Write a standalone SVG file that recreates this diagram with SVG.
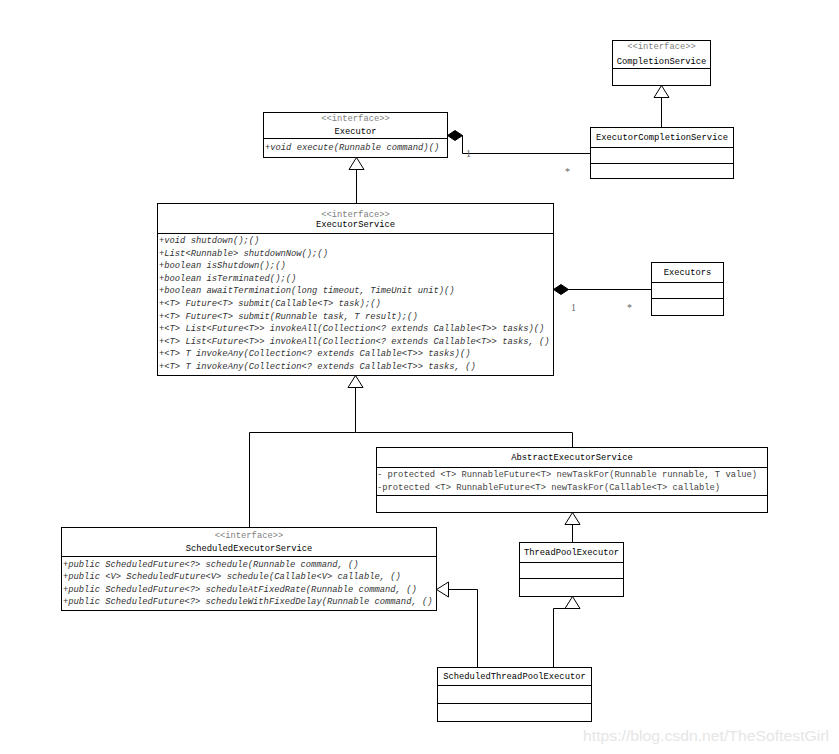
<svg xmlns="http://www.w3.org/2000/svg" width="839" height="754" viewBox="0 0 839 754">
<style>
.box{fill:#fff;stroke:#000;stroke-width:1}
.ln{fill:none;stroke:#000;stroke-width:1}
text{font-family:"Liberation Mono","DejaVu Sans Mono",monospace;font-size:8.8px;fill:#000}
.st{fill:#808080;text-anchor:middle}
.ti{text-anchor:middle}
.m{font-style:italic;fill:#333}
.p{fill:#444}
.lb{fill:#666;font-family:"Liberation Serif",serif;font-size:10px}
.wm{font-family:"Liberation Sans",Arial,sans-serif;font-size:14px;fill:#e6e6e6}
</style>
<defs>
<marker id="tri" markerUnits="userSpaceOnUse" markerWidth="14" markerHeight="17" refX="12" refY="7.5" orient="auto" viewBox="-1 -1 14 17">
<path d="M0,0 L12,7.5 L0,15 Z" fill="#fff" stroke="#000" stroke-width="1"/>
</marker>
<marker id="dia" markerUnits="userSpaceOnUse" markerWidth="18" markerHeight="12" refX="0" refY="5" orient="auto" viewBox="-1 -1 18 12">
<path d="M0,5 L7.5,0 L15,5 L7.5,10 Z" fill="#000" stroke="#000" stroke-width="1"/>
</marker>
</defs>

<g id="connectors">
<path class="ln" d="M661.5,127.5 L661.5,85.5" marker-end="url(#tri)"/>
<path class="ln" d="M356.5,203.5 L356.5,157.5" marker-end="url(#tri)"/>
<path class="ln" d="M249.5,527.5 L249.5,432.5 L355.5,432.5 L355.5,375.5" marker-end="url(#tri)"/>
<path class="ln" d="M572.5,447.5 L572.5,432.5 L355.5,432.5"/>
<path class="ln" d="M572.5,542.5 L572.5,512.5" marker-end="url(#tri)"/>
<path class="ln" d="M553.5,667.5 L553.5,608.5 L572.5,608.5 L572.5,596.5" marker-end="url(#tri)"/>
<path class="ln" d="M477.5,667.5 L477.5,589.5 L436.5,589.5" marker-end="url(#tri)"/>
<path class="ln" d="M447.5,135.5 L462.5,135.5 L462.5,153.5 L590.5,153.5" marker-start="url(#dia)"/>
<path class="ln" d="M553.5,289.5 L651.5,289.5" marker-start="url(#dia)"/>
<text class="lb" x="466" y="157">1</text>
<text class="lb" x="565" y="175">*</text>
<text class="lb" x="571" y="311">1</text>
<text class="lb" x="627" y="311">*</text>
</g>

<g id="CompletionService">
<rect class="box" x="612.5" y="40.5" width="98" height="45"/>
<line class="ln" x1="612.5" y1="68.5" x2="710.5" y2="68.5"/>
<text class="st" x="661.5" y="49">&lt;&lt;interface&gt;&gt;</text>
<text class="ti" x="661.5" y="64">CompletionService</text>
</g>

<g id="ExecutorCompletionService">
<rect class="box" x="590.5" y="127.5" width="143" height="51"/>
<line class="ln" x1="590.5" y1="147.5" x2="733.5" y2="147.5"/>
<line class="ln" x1="590.5" y1="163.5" x2="733.5" y2="163.5"/>
<text class="ti" x="662" y="140">ExecutorCompletionService</text>
</g>

<g id="Executor">
<rect class="box" x="263.5" y="112.5" width="184" height="45"/>
<line class="ln" x1="263.5" y1="138.5" x2="447.5" y2="138.5"/>
<text class="st" x="355.5" y="121">&lt;&lt;interface&gt;&gt;</text>
<text class="ti" x="355.5" y="134">Executor</text>
<text class="m" x="265" y="150">+void execute(Runnable command)()</text>
</g>

<g id="ExecutorService">
<rect class="box" x="157.5" y="203.5" width="396" height="172"/>
<line class="ln" x1="157.5" y1="233.5" x2="553.5" y2="233.5"/>
<text class="st" x="355.5" y="217">&lt;&lt;interface&gt;&gt;</text>
<text class="ti" x="355.5" y="227">ExecutorService</text>
<text class="m" x="159" y="243">+void shutdown();()</text>
<text class="m" x="159" y="255.6">+List&lt;Runnable&gt; shutdownNow();()</text>
<text class="m" x="159" y="268.2">+boolean isShutdown();()</text>
<text class="m" x="159" y="280.8">+boolean isTerminated();()</text>
<text class="m" x="159" y="293.4">+boolean awaitTermination(long timeout, TimeUnit unit)()</text>
<text class="m" x="159" y="306">+&lt;T&gt; Future&lt;T&gt; submit(Callable&lt;T&gt; task);()</text>
<text class="m" x="159" y="318.6">+&lt;T&gt; Future&lt;T&gt; submit(Runnable task, T result);()</text>
<text class="m" x="159" y="331.2">+&lt;T&gt; List&lt;Future&lt;T&gt;&gt; invokeAll(Collection&lt;? extends Callable&lt;T&gt;&gt; tasks)()</text>
<text class="m" x="159" y="343.8">+&lt;T&gt; List&lt;Future&lt;T&gt;&gt; invokeAll(Collection&lt;? extends Callable&lt;T&gt;&gt; tasks, ()</text>
<text class="m" x="159" y="356.4">+&lt;T&gt; T invokeAny(Collection&lt;? extends Callable&lt;T&gt;&gt; tasks)()</text>
<text class="m" x="159" y="369">+&lt;T&gt; T invokeAny(Collection&lt;? extends Callable&lt;T&gt;&gt; tasks, ()</text>
</g>

<g id="Executors">
<rect class="box" x="651.5" y="262.5" width="72" height="53"/>
<line class="ln" x1="651.5" y1="282.5" x2="723.5" y2="282.5"/>
<line class="ln" x1="651.5" y1="298.5" x2="723.5" y2="298.5"/>
<text class="ti" x="687.5" y="275">Executors</text>
</g>

<g id="AbstractExecutorService">
<rect class="box" x="376.5" y="447.5" width="391" height="65"/>
<line class="ln" x1="376.5" y1="467.5" x2="767.5" y2="467.5"/>
<line class="ln" x1="376.5" y1="495.5" x2="767.5" y2="495.5"/>
<text class="ti" x="572" y="460">AbstractExecutorService</text>
<text class="p" x="377" y="477">- protected &lt;T&gt; RunnableFuture&lt;T&gt; newTaskFor(Runnable runnable, T value)</text>
<text class="p" x="377" y="490">-protected &lt;T&gt; RunnableFuture&lt;T&gt; newTaskFor(Callable&lt;T&gt; callable)</text>
</g>

<g id="ThreadPoolExecutor">
<rect class="box" x="519.5" y="542.5" width="104" height="54"/>
<line class="ln" x1="519.5" y1="562.5" x2="623.5" y2="562.5"/>
<line class="ln" x1="519.5" y1="578.5" x2="623.5" y2="578.5"/>
<text class="ti" x="571.5" y="555">ThreadPoolExecutor</text>
</g>

<g id="ScheduledExecutorService">
<rect class="box" x="61.5" y="527.5" width="375" height="83"/>
<line class="ln" x1="61.5" y1="556.5" x2="436.5" y2="556.5"/>
<text class="st" x="249" y="538">&lt;&lt;interface&gt;&gt;</text>
<text class="ti" x="249" y="551">ScheduledExecutorService</text>
<text class="m" x="63" y="566.5">+public ScheduledFuture&lt;?&gt; schedule(Runnable command, ()</text>
<text class="m" x="63" y="579">+public &lt;V&gt; ScheduledFuture&lt;V&gt; schedule(Callable&lt;V&gt; callable, ()</text>
<text class="m" x="63" y="591.5">+public ScheduledFuture&lt;?&gt; scheduleAtFixedRate(Runnable command, ()</text>
<text class="m" x="63" y="604">+public ScheduledFuture&lt;?&gt; scheduleWithFixedDelay(Runnable command, ()</text>
</g>

<g id="ScheduledThreadPoolExecutor">
<rect class="box" x="437.5" y="667.5" width="154" height="54"/>
<line class="ln" x1="437.5" y1="685.5" x2="591.5" y2="685.5"/>
<line class="ln" x1="437.5" y1="703.5" x2="591.5" y2="703.5"/>
<text class="ti" x="514.5" y="679">ScheduledThreadPoolExecutor</text>
</g>

<text class="wm" x="583" y="741" textLength="246" lengthAdjust="spacingAndGlyphs">https://blog.csdn.net/TheSoftestGirl</text>
</svg>
